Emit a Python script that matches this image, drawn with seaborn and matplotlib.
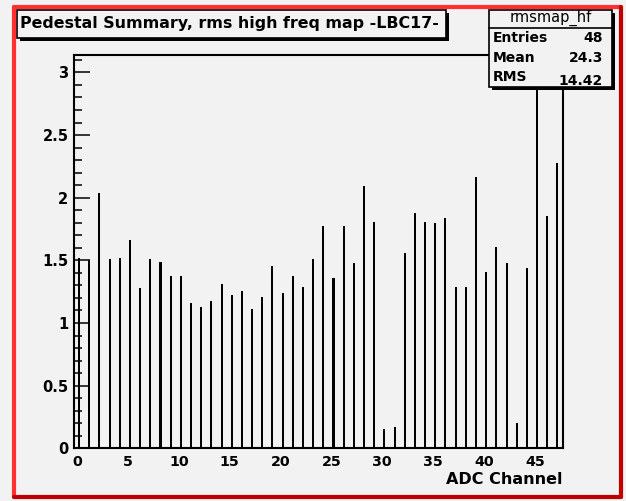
import numpy as np
import pandas as pd
import matplotlib
matplotlib.use("Agg")
import matplotlib.pyplot as plt
import matplotlib.transforms as mtransforms
from matplotlib.patches import Rectangle
from matplotlib.lines import Line2D
import seaborn as sns

# ---- data ----
channels = list(range(48))
rms_values = [1.52, 1.50, 2.04, 1.51, 1.52, 1.66, 1.28, 1.51, 1.49, 1.375,
              1.375, 1.157, 1.125, 1.173, 1.31, 1.223, 1.258, 1.109, 1.21, 1.457,
              1.242, 1.375, 1.29, 1.51, 1.774, 1.356, 1.774, 1.476, 2.093, 1.809,
              0.154, 0.173, 1.556, 1.875, 1.809, 1.795, 1.84, 1.29, 1.29, 2.162,
              1.41, 1.609, 1.476, 0.205, 1.441, 3.30, 1.856, 2.274]
x_ticks = [0, 5, 10, 15, 20, 25, 30, 35, 40, 45]
y_ticks = [0, 0.5, 1, 1.5, 2, 2.5, 3]
y_tick_labels = ["0", "0.5", "1", "1.5", "2", "2.5", "3"]
title_text = "Pedestal Summary, rms high freq map -LBC17-"
stats_name = "rmsmap_hf"
stats_labels = ["Entries", "Mean", "RMS"]
stats_values = ["48", "24.3", "14.42"]
x_label = "ADC Channel"

sns.set_style("white")
plt.rcParams['font.family'] = ['DejaVu Sans']
plt.rcParams['text.color'] = 'black'
plt.rcParams['xtick.color'] = 'black'
plt.rcParams['ytick.color'] = 'black'
plt.rcParams['axes.labelcolor'] = 'black'

BG = "#f2f2f2"
W, H = 626, 501
fig = plt.figure(figsize=(W / 100, H / 100), dpi=100, facecolor=BG)

def fx(px):
    return px / W

def fy(py):
    return 1 - py / H

left, right, top, bottom = 74, 562.5, 55, 448.3
ax = fig.add_axes([fx(left), fy(bottom), fx(right) - fx(left), fy(top) - fy(bottom)])
ax.set_facecolor(BG)

df = pd.DataFrame({"center": [c + 0.5 for c in channels], "rms": rms_values})
sns.barplot(data=df, x="center", y="rms", native_scale=True, width=0.2,
            color="black", saturation=1, errorbar=None, ax=ax, linewidth=0)

ax.set_xlim(0, 48)
ax.set_ylim(0, 3.139)
ax.set_xticks(x_ticks)
ax.set_xticklabels([str(t) for t in x_ticks], fontsize=10.3, fontweight="bold")
ax.set_yticks(y_ticks)
ax.set_yticklabels(y_tick_labels, fontsize=10.5, fontweight="bold")
ax.set_yticks(np.arange(0, 3.14, 0.1), minor=True)
ax.tick_params(axis="both", which="both", bottom=True, left=True, top=False, right=False,
               colors="black", labelcolor="black")
ax.tick_params(axis="y", which="major", direction="in", length=11.5, width=1.1, pad=4)
ax.tick_params(axis="y", which="minor", direction="in", length=5.8, width=1.1)
ax.tick_params(axis="x", which="major", direction="in", length=0, width=1.1, pad=5)
shift = mtransforms.ScaledTranslation(3 / 100, 0, fig.dpi_scale_trans)
for lab in ax.get_xticklabels():
    lab.set_transform(lab.get_transform() + shift)
ax.set_xlabel("")
ax.set_ylabel("")
for s in ax.spines.values():
    s.set_visible(True)
    s.set_color("black")
    s.set_linewidth(1.5)

fig.text(fx(right), fy(480), x_label, ha="right", va="center",
         fontsize=11.5, fontweight="bold", color="black")

# ---- title box with shadow ----
tx0, tx1, ty0, ty1 = 17, 446, 10, 38
fig.patches.append(Rectangle((fx(tx0 + 3), fy(ty1 + 3)), fx(tx1) - fx(tx0), fy(ty0) - fy(ty1),
                             transform=fig.transFigure, facecolor="black", edgecolor="none", zorder=5))
fig.patches.append(Rectangle((fx(tx0), fy(ty1)), fx(tx1) - fx(tx0), fy(ty0) - fy(ty1),
                             transform=fig.transFigure, facecolor=BG, edgecolor="black",
                             linewidth=1.2, zorder=6))
fig.text(fx(20), fy(23.5), title_text, ha="left", va="center", fontsize=11.4,
         fontweight="bold", zorder=7, color="black")

# ---- stats box with shadow ----
sx0, sx1, sy0, sy1 = 489, 612, 10, 87
fig.patches.append(Rectangle((fx(sx0 + 3), fy(sy1 + 3)), fx(sx1) - fx(sx0), fy(sy0) - fy(sy1),
                             transform=fig.transFigure, facecolor="black", edgecolor="none", zorder=5))
fig.patches.append(Rectangle((fx(sx0), fy(sy1)), fx(sx1) - fx(sx0), fy(sy0) - fy(sy1),
                             transform=fig.transFigure, facecolor=BG, edgecolor="black",
                             linewidth=1.2, zorder=6))
fig.lines.append(Line2D([fx(sx0), fx(sx1)], [fy(28), fy(28)], transform=fig.transFigure,
                        color="black", linewidth=1.2, zorder=7))
fig.text(fx((sx0 + sx1) / 2), fy(18), stats_name, ha="center", va="center",
         fontsize=10.5, zorder=7, color="black")
for i, (lab, val) in enumerate(zip(stats_labels, stats_values)):
    yy = fy(38 + i * 19.5)
    fig.text(fx(493), yy, lab, ha="left", va="center", fontsize=10, fontweight="bold",
             zorder=7, color="black")
    fig.text(fx(603), yy + (fy(81) - fy(77) if i == 2 else 0), val, ha="right", va="center",
             fontsize=10, fontweight="bold", zorder=7, color="black")

# ---- red canvas border ----
fl, fr, ft, fb = 14, 621, 7, 497
fig.lines.append(Line2D([fx(fl), fx(fl)], [fy(fb), fy(ft)], transform=fig.transFigure,
                        color="#ff3030", linewidth=3, zorder=8))
fig.lines.append(Line2D([fx(fl), fx(fr)], [fy(ft), fy(ft)], transform=fig.transFigure,
                        color="#ff3030", linewidth=3, zorder=8))
fig.lines.append(Line2D([fx(fr), fx(fr)], [fy(ft), fy(fb)], transform=fig.transFigure,
                        color="#c00000", linewidth=3, zorder=8))
fig.lines.append(Line2D([fx(fl), fx(fr)], [fy(fb), fy(fb)], transform=fig.transFigure,
                        color="#c00000", linewidth=3, zorder=8))

fig.savefig("out.png", dpi=100, facecolor=BG)
